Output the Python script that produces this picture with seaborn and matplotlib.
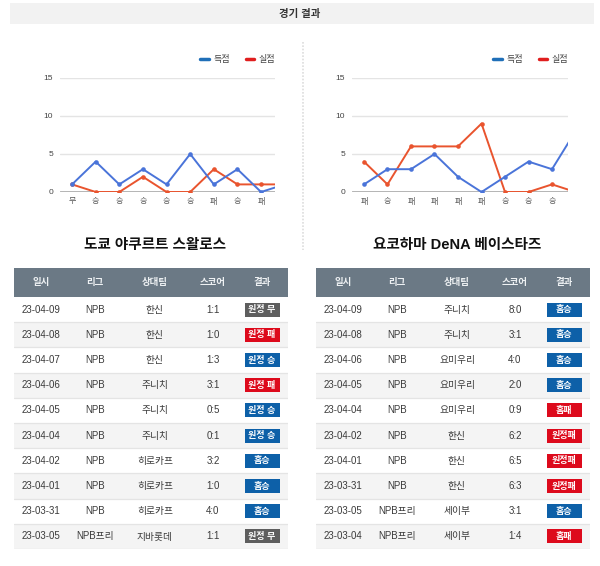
import seaborn as sns
import matplotlib.pyplot as plt
from matplotlib.patches import Rectangle
from matplotlib.lines import Line2D

# 최근 경기 득점/실점 (차트)
left_results = ['무', '승', '승', '승', '승', '승', '패', '승', '패', '무']
left_scored = [1, 4, 1, 3, 1, 5, 1, 3, 0, 1]
left_conceded = [1, 0, 0, 2, 0, 0, 3, 1, 1, 1]

right_results = ['패', '승', '패', '패', '패', '패', '승', '승', '승', '승']
right_scored = [1, 3, 3, 5, 2, 0, 2, 4, 3, 8]
right_conceded = [4, 1, 6, 6, 6, 9, 0, 0, 1, 0]

# 테이블 데이터
left_team = '도쿄 야쿠르트 스왈로스'
left_dates = ['23-04-09', '23-04-08', '23-04-07', '23-04-06', '23-04-05',
              '23-04-04', '23-04-02', '23-04-01', '23-03-31', '23-03-05']
left_league = ['NPB'] * 9 + ['NPB프리']
left_opp = ['한신', '한신', '한신', '주니치', '주니치', '주니치',
            '히로카프', '히로카프', '히로카프', '지바롯데']
left_score = ['1:1', '1:0', '1:3', '3:1', '0:5', '0:1', '3:2', '1:0', '4:0', '1:1']
left_badge = ['원정 무', '원정 패', '원정 승', '원정 패', '원정 승', '원정 승',
              '홈승', '홈승', '홈승', '원정 무']

right_team = '요코하마 DeNA 베이스타즈'
right_dates = ['23-04-09', '23-04-08', '23-04-06', '23-04-05', '23-04-04',
               '23-04-02', '23-04-01', '23-03-31', '23-03-05', '23-03-04']
right_league = ['NPB'] * 8 + ['NPB프리', 'NPB프리']
right_opp = ['주니치', '주니치', '요미우리', '요미우리', '요미우리',
             '한신', '한신', '한신', '세이부', '세이부']
right_score = ['8:0', '3:1', '4:0', '2:0', '0:9', '6:2', '6:5', '6:3', '3:1', '1:4']
right_badge = ['홈승', '홈승', '홈승', '홈승', '홈패', '원정패', '원정패', '원정패', '홈승', '홈패']

columns = ['일시', '리그', '상대팀', '스코어', '결과']

sns.set_style('white')
plt.rcParams['font.family'] = ['Liberation Sans', 'Noto Sans CJK KR']

W, H = 600, 566
fig = plt.figure(figsize=(6, 5.66), dpi=100)


def box(x, y, w, h):
    return [x / W, 1 - (y + h) / H, w / W, h / H]


# 상단 제목 띠
fig.add_artist(Rectangle((10 / W, 1 - 24 / H), 584 / W, 21 / H,
                         transform=fig.transFigure, color='#f2f2f2', lw=0))
fig.text(0.5, 1 - 13.5 / H, '경기 결과', ha='center', va='center',
         fontsize=7.5, fontweight='bold', color='#333333')

# 가운데 점선
fig.add_artist(Line2D([303 / W, 303 / W], [1 - 42 / H, 1 - 250 / H],
                      transform=fig.transFigure, color='#dddddd', lw=1.2,
                      ls=(0, (1, 1))))


def draw_chart(x0, width, xmax, results, scored, conceded):
    ax = fig.add_axes(box(x0, 78, width, 114))
    idx = list(range(len(scored)))
    for v in [5, 10, 15]:
        ax.axhline(v, color='#e4e4e4', lw=1, zorder=0)
    ax.axhline(0, color='#9e9e9e', lw=1.8, zorder=1)
    sns.lineplot(x=idx, y=scored, ax=ax, color='#4a74d9', marker='o',
                 markersize=3.3, markeredgewidth=0, linewidth=1.4, sort=False, zorder=3)
    sns.lineplot(x=idx, y=conceded, ax=ax, color='#e9542e', marker='o',
                 markersize=3.3, markeredgewidth=0, linewidth=1.4, sort=False, zorder=2)
    ax.set_yticks([0, 5, 10, 15])
    ax.set_xticks(idx)
    ax.set_xticklabels(results)
    ax.set_xlim(-0.51, xmax)
    ax.set_ylim(0, 15)
    ax.tick_params(axis='y', length=0, pad=5, labelsize=6, labelcolor='#444444')
    ax.tick_params(axis='x', length=0, pad=4, labelsize=5.8, labelcolor='#555555')
    for s in ax.spines.values():
        s.set_visible(False)
    ax.set_xlabel('')
    ax.set_ylabel('')
    handles = [Line2D([], [], color='#1f6fb8', lw=2.5),
               Line2D([], [], color='#e01e1e', lw=2.5)]
    ax.legend(handles, ['득점', '실점'], loc='center right', bbox_to_anchor=(1.0, 1.16),
              ncol=2, frameon=False, fontsize=6.5, handlelength=0.9,
              handletextpad=0.5, columnspacing=1.8, borderpad=0, borderaxespad=0,
              labelcolor='#444444')
    return ax


draw_chart(60, 215, 8.59, left_results, left_scored, left_conceded)
draw_chart(352, 216, 8.68, right_results, right_scored, right_conceded)

badge_colors = {'무': '#5e5e5e', '패': '#dd0a1c', '승': '#0d60a8'}
col_x = [27, 81, 141, 199, 248]
row_h = 25.2
head_h = 29 / row_h


def draw_table(x0, title, dates, leagues, opps, scores, badges):
    fig.text((x0 + 141) / W, 1 - 245 / H, title, ha='center', va='center',
             fontsize=10.5, fontweight='bold', color='#111111')
    ax = fig.add_axes(box(x0, 268, 274, 29 + 10 * row_h))
    ax.set_xlim(0, 274)
    ax.set_ylim(10, -head_h)
    ax.axis('off')
    ax.add_patch(Rectangle((0, -head_h), 274, head_h, color='#6b7985', lw=0))
    for cx, name in zip(col_x, columns):
        ax.text(cx, -head_h / 2, name, ha='center', va='center', fontsize=6.8,
                color='#eef1f3', fontweight='bold')
    n = len(dates)
    for i in range(n):
        if i % 2 == 1:
            ax.add_patch(Rectangle((0, i), 274, 1, color='#f4f4f4', lw=0))
        ax.plot([0, 274], [i + 1, i + 1], color='#e4e4e4', lw=0.9)
        vals = [dates[i], leagues[i], opps[i], scores[i]]
        for cx, v in zip(col_x[:4], vals):
            ax.text(cx, i + 0.5, v, ha='center', va='center', fontsize=7,
                    color='#3a3a3a')
        b = badges[i]
        c = badge_colors[b[-1]]
        ax.add_patch(Rectangle((col_x[4] - 17.5, i + 0.22), 35, 0.56, color=c, lw=0))
        ax.text(col_x[4], i + 0.5, b, ha='center', va='center', fontsize=6.5,
                color='white', fontweight='bold')


draw_table(14, left_team, left_dates, left_league, left_opp, left_score, left_badge)
draw_table(316, right_team, right_dates, right_league, right_opp, right_score, right_badge)

fig.savefig('out.png', dpi=100, facecolor='white')
